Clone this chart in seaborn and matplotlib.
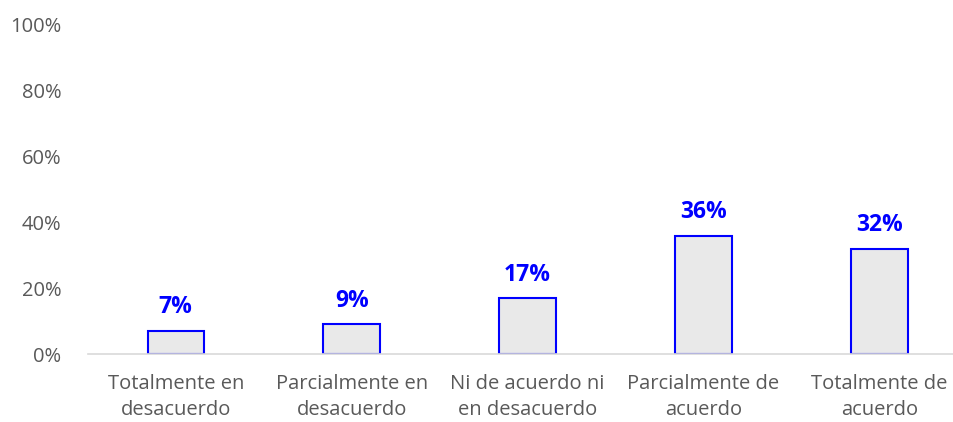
import seaborn as sns
import pandas as pd
import matplotlib.pyplot as plt

categories = ['Totalmente en\ndesacuerdo', 'Parcialmente en\ndesacuerdo',
              'Ni de acuerdo ni\nen desacuerdo', 'Parcialmente de\nacuerdo',
              'Totalmente de\nacuerdo']
values = [7, 9, 17, 36, 32]
yticks = [0, 20, 40, 60, 80, 100]

df = pd.DataFrame({'cat': categories, 'pct': values})

sns.set_theme(style='white')
plt.rcParams['font.family'] = ['Open Sans', 'DejaVu Sans']

fig = plt.figure(figsize=(9.54, 4.22), dpi=100)
ax = fig.add_axes([0.092, 0.161, 0.922, 0.78])

sns.barplot(data=df, x='cat', y='pct', ax=ax, color='#e9e9e9',
            edgecolor='#0000ff', linewidth=1.5, width=0.32)

for i, v in enumerate(values):
    ax.text(i, v + 3.5, f'{v}%', ha='center', va='bottom', color='#0000ff',
            fontsize=16.5, fontweight='bold')

ax.set_ylim(0, 100)
ax.set_yticks(yticks)
ax.set_yticklabels([f'{t}%' for t in yticks])
ax.set_xlabel('')
ax.set_ylabel('')
ax.tick_params(axis='both', colors='#595959', labelsize=14.5, length=0)
ax.tick_params(axis='y', pad=19)
ax.tick_params(axis='x', pad=14)
for label in ax.get_xticklabels():
    label.set_linespacing(1.45)
for s in ['top', 'right', 'left']:
    ax.spines[s].set_visible(False)
ax.spines['bottom'].set_color('#d9d9d9')
ax.spines['bottom'].set_linewidth(1.2)
ax.set_xlim(-0.5, 4.5)

fig.savefig('out.png', dpi=100)
